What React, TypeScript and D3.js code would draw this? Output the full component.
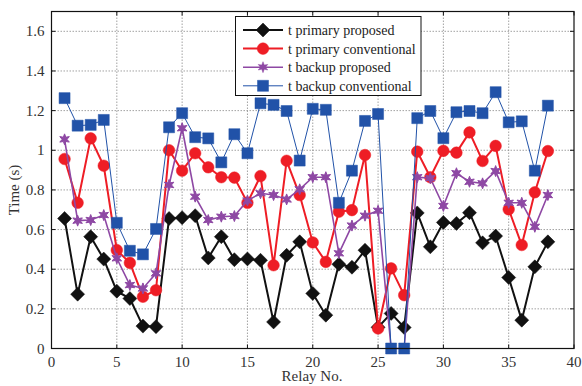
import React from "react";
import * as d3 from "d3";

const relays = d3.range(1, 39);
const primaryProposed = [0.656, 0.274, 0.564, 0.451, 0.289, 0.252, 0.113, 0.11, 0.656, 0.66, 0.67, 0.457, 0.564, 0.448, 0.452, 0.445, 0.134, 0.47, 0.538, 0.278, 0.168, 0.425, 0.41, 0.496, 0.107, 0.177, 0.106, 0.684, 0.513, 0.636, 0.631, 0.685, 0.533, 0.567, 0.358, 0.143, 0.412, 0.538];
const primaryConventional = [0.956, 0.735, 1.06, 0.922, 0.496, 0.432, 0.261, 0.294, 1.0, 0.897, 0.985, 0.914, 0.864, 0.862, 0.735, 0.87, 0.42, 0.947, 0.774, 0.535, 0.437, 0.69, 0.698, 0.976, 0.101, 0.404, 0.269, 0.993, 0.864, 0.997, 0.988, 1.09, 0.946, 1.022, 0.702, 0.522, 0.788, 0.996];
const backupProposed = [1.055, 0.645, 0.648, 0.673, 0.455, 0.32, 0.303, 0.379, 0.825, 1.111, 0.766, 0.648, 0.665, 0.668, 0.746, 0.783, 0.774, 0.752, 0.803, 0.864, 0.864, 0.48, 0.62, 0.67, 0.695, 0, 0, 0.864, 0.859, 0.719, 0.884, 0.841, 0.833, 0.895, 0.735, 0.735, 0.614, 0.774];
const backupConventional = [1.263, 1.124, 1.128, 1.153, 0.634, 0.493, 0.475, 0.603, 1.116, 1.187, 1.066, 1.06, 0.939, 1.081, 0.985, 1.237, 1.229, 1.198, 0.948, 1.209, 1.204, 0.735, 0.897, 1.148, 1.183, 0, 0, 1.162, 1.198, 1.061, 1.192, 1.198, 1.187, 1.293, 1.141, 1.146, 0.897, 1.225];
const xTicks = [0, 5, 10, 15, 20, 25, 30, 35, 40];
const yTicks = [0, 0.2, 0.4, 0.6, 0.8, 1, 1.2, 1.4, 1.6];
const seriesNames = ["t primary proposed", "t primary conventional", "t backup proposed", "t backup conventional"];

const W = 582, H = 386;
const L = 51.5, R = 574, T = 11.5, B = 348.5;
const FONT = "'Liberation Serif', 'Times New Roman', serif";

type Style = { color: string; width: number; marker: string; size: number };
const styles: Style[] = [
  { color: "#111111", width: 2, marker: "diamond", size: 7 },
  { color: "#ee1d25", width: 2, marker: "circle", size: 5.8 },
  { color: "#8e48a4", width: 1.6, marker: "hexagram", size: 5.5 },
  { color: "#2152a8", width: 1, marker: "square", size: 5.5 },
];

function markerPath(kind: string, s: number): string {
  if (kind === "diamond") return `M0,${-s}L${s},0L0,${s}L${-s},0Z`;
  if (kind === "square") return `M${-s},${-s}H${s}V${s}H${-s}Z`;
  if (kind === "circle") return `M${s},0A${s},${s} 0 1,1 ${-s},0A${s},${s} 0 1,1 ${s},0Z`;
  const pts: string[] = [];
  for (let i = 0; i < 12; i++) {
    const r = i % 2 === 0 ? s : s * 0.45;
    const a = (Math.PI / 6) * i - Math.PI / 2;
    pts.push(`${(r * Math.cos(a)).toFixed(2)},${(r * Math.sin(a)).toFixed(2)}`);
  }
  return "M" + pts.join("L") + "Z";
}

export default function App() {
  const x = d3.scaleLinear().domain([0, 40]).range([L, R]);
  const y = d3.scaleLinear().domain([0, 1.7]).range([B, T]);
  const data = [primaryProposed, primaryConventional, backupProposed, backupConventional];
  const line = d3.line<number>().x((_, i) => x(relays[i])).y((v) => y(v));

  return (
    <svg width={W} height={H} style={{ position: "absolute", left: 0, top: 0, background: "#fff" }}>
      {xTicks.slice(1, -1).map((t) => (
        <line key={"gx" + t} x1={x(t)} x2={x(t)} y1={T} y2={B} stroke="#8a8a8a" strokeWidth={0.8} strokeDasharray="1.5,1.5" />
      ))}
      {yTicks.slice(1).map((t) => (
        <line key={"gy" + t} x1={L} x2={R} y1={y(t)} y2={y(t)} stroke="#8a8a8a" strokeWidth={0.8} strokeDasharray="1.5,1.5" />
      ))}
      {xTicks.map((t) => (
        <g key={"tx" + t}>
          <line x1={x(t)} x2={x(t)} y1={B} y2={B - 4} stroke="#111" />
          <line x1={x(t)} x2={x(t)} y1={T} y2={T + 4} stroke="#111" />
          <text x={x(t)} y={B + 18} textAnchor="middle" fontFamily={FONT} fontSize={15} fill="#333">{t}</text>
        </g>
      ))}
      {yTicks.map((t) => (
        <g key={"ty" + t}>
          <line x1={L} x2={L + 4} y1={y(t)} y2={y(t)} stroke="#111" />
          <line x1={R} x2={R - 4} y1={y(t)} y2={y(t)} stroke="#111" />
          <text x={L - 7} y={y(t) + 5} textAnchor="end" fontFamily={FONT} fontSize={15} fill="#333">{String(t)}</text>
        </g>
      ))}
      {data.map((vals, si) => {
        const st = styles[si];
        return (
          <g key={"s" + si}>
            <path d={line(vals) || ""} fill="none" stroke={st.color} strokeWidth={st.width} strokeLinejoin="miter" />
            {vals.map((v, i) => (
              <path key={i} transform={`translate(${x(relays[i])},${y(v)})`} d={markerPath(st.marker, st.size)} fill={st.color} stroke={st.color} strokeWidth={si === 2 ? 1 : 0.5} />
            ))}
          </g>
        );
      })}
      <rect x={L} y={T} width={R - L} height={B - T} fill="none" stroke="#111" strokeWidth={1.2} />
      <g>
        <rect x={235.5} y={16.5} width={185.5} height={79} fill="#fff" stroke="#111" strokeWidth={1} />
        {seriesNames.map((n, i) => {
          const st = styles[i];
          const ly = 30 + i * 18.6;
          return (
            <g key={"l" + i}>
              <line x1={243} x2={283} y1={ly} y2={ly} stroke={st.color} strokeWidth={st.width} />
              <path transform={`translate(263,${ly})`} d={markerPath(st.marker, st.size)} fill={st.color} stroke={st.color} strokeWidth={0.5} />
              <text x={288} y={ly + 5} fontFamily={FONT} fontSize={14} fill="#222">{n}</text>
            </g>
          );
        })}
      </g>
      <text x={312} y={381} textAnchor="middle" fontFamily={FONT} fontSize={15} fill="#333">Relay No.</text>
      <text transform={`translate(19,${190}) rotate(-90)`} textAnchor="middle" fontFamily={FONT} fontSize={15} fill="#333">Time (s)</text>
    </svg>
  );
}
